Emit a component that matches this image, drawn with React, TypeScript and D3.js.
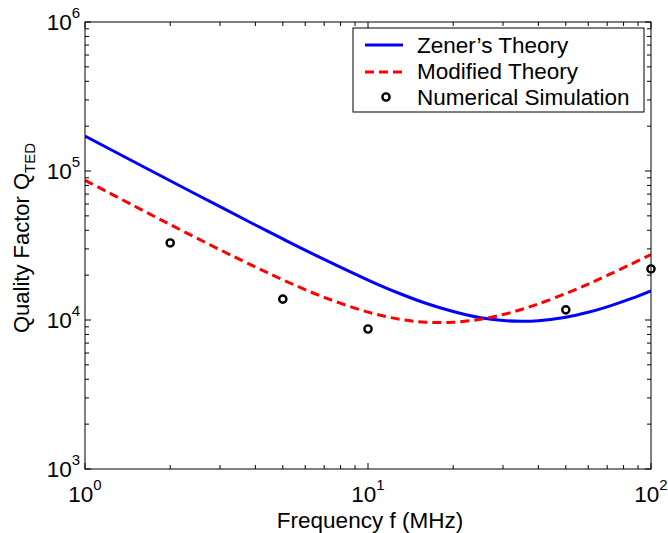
import React from "react";
import * as d3 from "d3";

const freqs = [1, 1.5, 2, 3, 4, 5, 7, 10, 13, 16, 20, 25, 30, 35, 40, 50, 60, 70, 85, 100];
const zenerQ = [171600, 114500, 86000, 57600, 43400, 35000, 25500, 18550, 15000, 12950, 11400, 10350, 9920, 9800, 9890, 10430, 11260, 12250, 13900, 15700];
const modifiedQ = [86700, 58000, 43700, 29600, 22700, 18600, 14200, 11300, 10100, 9670, 9650, 10120, 10880, 11800, 12830, 15060, 17440, 19900, 23700, 27500];
const simFreqs = [2, 5, 10, 50, 100];
const simQ = [32900, 13800, 8700, 11700, 22000];
const xDecades = [0, 1, 2];
const yDecades = [3, 4, 5, 6];
const legendLabels = ["Zener\u2019s Theory", "Modified Theory", "Numerical Simulation"];

const W = 668, H = 533;
const L = 85, R = 651, T = 22, B = 469;
const FONT = "'Liberation Sans', Arial, Helvetica, sans-serif";

export default function App() {
  const x = d3.scaleLog().domain([1, 100]).range([L, R]);
  const y = d3.scaleLog().domain([1000, 1e6]).range([B, T]);

  const line = d3
    .line<number>()
    .x((_, i) => x(freqs[i]))
    .y((d) => y(d))
    .curve(d3.curveCatmullRom.alpha(0.5));

  const xMinor: number[] = [];
  for (let e = 0; e < 2; e++) for (let k = 2; k <= 9; k++) xMinor.push(k * Math.pow(10, e));
  const yMinor: number[] = [];
  for (let e = 3; e < 6; e++) for (let k = 2; k <= 9; k++) yMinor.push(k * Math.pow(10, e));

  const major = 6, minor = 4;
  const lx = 353, ly = 28, lw = 291, lh = 84;

  return (
    <svg width={W} height={H} style={{ display: "block", position: "absolute", left: 0, top: 0 }} fontFamily={FONT}>
      <rect x={0} y={0} width={W} height={H} fill="#fff" />
      <defs>
        <clipPath id="plotclip">
          <rect x={L} y={T} width={R - L} height={B - T} />
        </clipPath>
      </defs>
      {/* ticks */}
      <g stroke="#000" strokeWidth={1}>
        {xDecades.map((e) => {
          const px = x(Math.pow(10, e));
          return (
            <g key={"xm" + e}>
              <line x1={px} x2={px} y1={B} y2={B - major} />
              <line x1={px} x2={px} y1={T} y2={T + major} />
            </g>
          );
        })}
        {xMinor.map((v) => {
          const px = x(v);
          return (
            <g key={"xn" + v}>
              <line x1={px} x2={px} y1={B} y2={B - minor} />
              <line x1={px} x2={px} y1={T} y2={T + minor} />
            </g>
          );
        })}
        {yDecades.map((e) => {
          const py = y(Math.pow(10, e));
          return (
            <g key={"ym" + e}>
              <line x1={L} x2={L + major} y1={py} y2={py} />
              <line x1={R} x2={R - major} y1={py} y2={py} />
            </g>
          );
        })}
        {yMinor.map((v) => {
          const py = y(v);
          return (
            <g key={"yn" + v}>
              <line x1={L} x2={L + minor} y1={py} y2={py} />
              <line x1={R} x2={R - minor} y1={py} y2={py} />
            </g>
          );
        })}
      </g>
      {/* curves */}
      <g clipPath="url(#plotclip)">
        <path d={line(zenerQ) || ""} fill="none" stroke="#0000ff" strokeWidth={3} />
        <path d={line(modifiedQ) || ""} fill="none" stroke="#ff0000" strokeWidth={3} strokeDasharray="9,5" />
      </g>
      {simFreqs.map((f, i) => (
        <circle key={"s" + i} cx={x(f)} cy={y(simQ[i])} r={3.6} fill="none" stroke="#000" strokeWidth={2.4} />
      ))}
      <rect x={L} y={T} width={R - L} height={B - T} fill="none" stroke="#000" strokeWidth={1} />
      {/* x tick labels */}
      {xDecades.map((e) => (
        <text key={"xl" + e} x={x(Math.pow(10, e))} y={502} textAnchor="middle" fontSize={22.5} fill="#000">
          10<tspan fontSize={15} dy={-12}>{e}</tspan>
        </text>
      ))}
      {/* y tick labels */}
      {yDecades.map((e) => (
        <text key={"yl" + e} x={80} y={y(Math.pow(10, e)) + 8} textAnchor="end" fontSize={22.5} fill="#000">
          10<tspan fontSize={15} dy={-12}>{e}</tspan>
        </text>
      ))}
      <text x={370} y={528} textAnchor="middle" fontSize={22.5} fill="#000">
        Frequency f (MHz)
      </text>
      <text transform={`translate(29,238) rotate(-90)`} textAnchor="middle" fontSize={22} fill="#000">
        Quality Factor Q<tspan fontSize={15} dy={6}>TED</tspan>
      </text>
      {/* legend */}
      <rect x={lx} y={ly} width={lw} height={lh} fill="#fff" stroke="#000" strokeWidth={1} />
      <line x1={365} x2={403} y1={45} y2={45} stroke="#0000ff" strokeWidth={3} />
      <line x1={365} x2={403} y1={72} y2={72} stroke="#ff0000" strokeWidth={3} strokeDasharray="9,5" />
      <circle cx={386} cy={97} r={3.6} fill="none" stroke="#000" strokeWidth={2.4} />
      {legendLabels.map((t, i) => (
        <text key={"lg" + i} x={417} y={53 + i * 26} fontSize={22.5} fill="#000">
          {t}
        </text>
      ))}
    </svg>
  );
}
